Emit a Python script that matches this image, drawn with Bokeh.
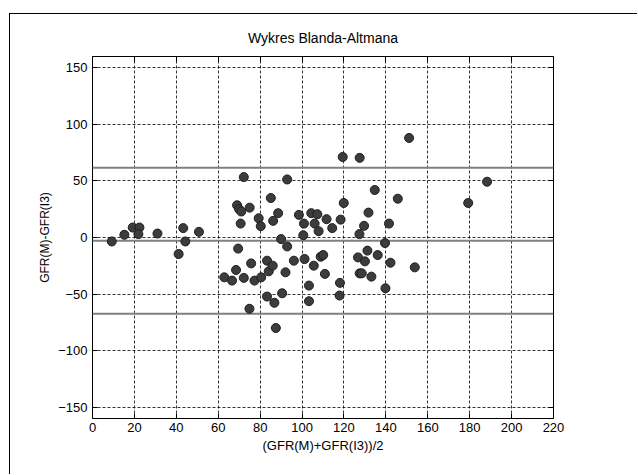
from bokeh.plotting import figure
from bokeh.models import Span, LinearAxis, FixedTicker, Range1d
from bokeh.embed import file_html
from bokeh.resources import INLINE

# Bland-Altman data: mean of the two methods and their difference
mean_vals = [9.2, 15.2, 19.2, 22.4, 21.9, 31.0, 41.1, 43.3, 44.3, 50.8,
             62.9, 66.6, 68.5, 69.0, 70.0, 71.0, 69.5, 70.7, 72.2, 72.2,
             75.0, 74.9, 75.7, 77.3, 79.3, 80.3, 80.5, 83.3, 83.3, 84.1,
             85.1, 86.0, 86.2, 86.8, 87.5, 88.6, 90.0, 90.5, 92.1, 92.9,
             92.9, 96.1, 98.5, 100.6, 100.9, 101.2, 103.3, 103.3, 104.4, 105.6,
             106.0, 107.3, 107.9, 108.9, 110.1, 110.9, 111.7, 114.4, 117.9, 118.1,
             118.4, 119.4, 119.9, 126.7, 127.4, 127.5, 127.5, 128.5, 129.6, 130.0,
             131.2, 131.7, 133.1, 134.7, 136.1, 139.6, 139.8, 141.5, 142.2, 145.7,
             151.1, 153.8, 179.3, 188.3]
diff_vals = [-3.5, 2.4, 8.8, 8.8, 3.0, 3.5, -14.6, 8.3, -3.5, 5.0,
             -35.2, -38.1, -28.7, 28.5, 25.0, 23.0, -9.8, 12.3, 53.4, -35.7,
             26.4, -63.0, -22.9, -38.1, 17.0, 10.0, -35.2, -20.5, -52.2, -29.9,
             34.9, -24.9, 14.7, -57.7, -80.0, 21.5, -1.4, -49.3, -30.8, 51.3,
             -7.9, -20.5, 20.0, 2.0, 12.3, -19.0, -42.5, -56.3, 21.5, -24.9,
             12.3, 20.6, 5.6, -17.0, -15.5, -32.2, 16.2, 8.3, -51.3, -40.1,
             15.8, 71.2, 30.5, -17.6, 3.0, 70.4, -31.7, -31.7, 10.3, -21.1,
             -11.6, 22.0, -34.6, 42.0, -15.5, -4.9, -44.9, 12.3, -22.3, 34.3,
             88.0, -26.4, 30.5, 49.3]

x_ticks = [0, 20, 40, 60, 80, 100, 120, 140, 160, 180, 200, 220]
y_ticks = [-150, -100, -50, 0, 50, 100, 150]

mean_diff = -2.9
upper_loa = 61.6
lower_loa = -67.4

FONT = "Liberation Sans"

p = figure(width=628, height=461,
           x_range=Range1d(0, 220), y_range=Range1d(-160, 160),
           output_backend="svg", toolbar_location=None,
           title="Wykres Blanda-Altmana",
           min_border_left=82, min_border_right=85,
           min_border_top=42, min_border_bottom=57)
p.styles = {"margin-left": "9px", "margin-top": "13px",
            "border-left": "1px solid #000", "border-top": "1px solid #000"}

p.background_fill_color = "white"
p.border_fill_color = "white"
p.outline_line_color = "black"
p.outline_line_width = 1

p.title.text_font = FONT
p.title.text_font_size = "14px"
p.title.text_font_style = "normal"
p.title.text_color = "black"
p.title.align = "center"
p.title.standoff = 21

for ax, ticks in ((p.xaxis[0], x_ticks), (p.yaxis[0], y_ticks)):
    ax.ticker = FixedTicker(ticks=ticks, minor_ticks=[])
    ax.major_tick_in = 5
    ax.major_tick_out = 0
    ax.minor_tick_in = 0
    ax.minor_tick_out = 0
    ax.axis_line_color = None
    ax.major_tick_line_color = "black"
    ax.major_label_text_font = FONT
    ax.major_label_text_font_size = "13px"
    ax.major_label_text_color = "black"
    ax.axis_label_text_font = FONT
    ax.axis_label_text_font_style = "normal"
    ax.axis_label_text_color = "black"

p.xaxis[0].axis_label = "(GFR(M)+GFR(I3))/2"
p.xaxis[0].axis_label_text_font_size = "13px"
p.xaxis[0].major_label_standoff = 4
p.xaxis[0].axis_label_standoff = 3
p.yaxis[0].axis_label = "GFR(M)-GFR(I3)"
p.yaxis[0].axis_label_text_font_size = "12px"
p.yaxis[0].major_label_standoff = 5
p.yaxis[0].axis_label_standoff = 3

top_ax = LinearAxis(ticker=FixedTicker(ticks=x_ticks, minor_ticks=[]),
                    major_label_text_font_size="0px", major_label_text_color=None,
                    major_label_standoff=0,
                    major_tick_in=5, major_tick_out=0, minor_tick_in=0, minor_tick_out=0,
                    axis_line_color=None, major_tick_line_color="black")
right_ax = LinearAxis(ticker=FixedTicker(ticks=y_ticks, minor_ticks=[]),
                      major_label_text_font_size="0px", major_label_text_color=None,
                      major_label_standoff=0,
                      major_tick_in=5, major_tick_out=0, minor_tick_in=0, minor_tick_out=0,
                      axis_line_color=None, major_tick_line_color="black")
p.add_layout(top_ax, "above")
p.add_layout(right_ax, "right")

for g in (p.xgrid[0], p.ygrid[0]):
    g.grid_line_color = "black"
    g.grid_line_alpha = 0.8
    g.grid_line_dash = "3 2"
    g.grid_line_width = 1

for loc in (mean_diff, upper_loa, lower_loa):
    p.add_layout(Span(location=loc, dimension="width", line_color="#808080",
                      line_width=2, level="underlay"))

p.scatter(mean_vals, diff_vals, marker="circle", size=9,
          fill_color="#3c3c3c", line_color="#1e1e1e", line_width=1)

open("out.html", "w").write(file_html(p, INLINE))
